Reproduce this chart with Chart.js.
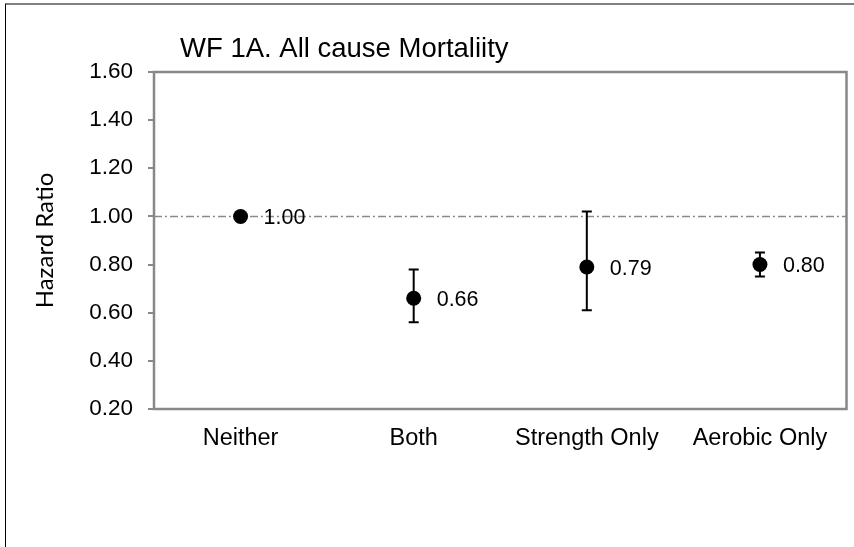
<!DOCTYPE html>
<html><head><meta charset="utf-8">
<script src="https://cdn.jsdelivr.net/npm/chart.js@4.4.1/dist/chart.umd.min.js"></script>
<style>
html,body{margin:0;padding:0;background:#fff;}
#wrap{position:relative;width:854px;height:547px;overflow:hidden;}
#frame{position:absolute;left:5px;top:3px;right:-5px;bottom:-5px;border-top:2px solid #808080;border-left:1px solid #000;pointer-events:none;}
canvas{position:absolute;left:0;top:0;}
</style></head><body>
<div id="wrap"><canvas id="c" width="854" height="547"></canvas><div id="frame"></div></div>
<script>
const chartTitle = 'WF 1A. All cause Mortaliity';
const yAxisTitle = 'Hazard Ratio';
const categories = ['Neither', 'Both', 'Strength Only', 'Aerobic Only'];
const hazardRatio = [1.00, 0.66, 0.79, 0.80];
const ciLower = [null, 0.56, 0.61, 0.75];
const ciUpper = [null, 0.78, 1.02, 0.85];
const referenceValue = 1.00;
const yTicks = [0.20, 0.40, 0.60, 0.80, 1.00, 1.20, 1.40, 1.60];

const FONT = "'Liberation Sans', Arial, sans-serif";

const overlay = {
  id: 'overlay',
  beforeDatasetsDraw(chart) {
    const {ctx, chartArea: a, scales: {x, y}} = chart;
    const yr = y.getPixelForValue(referenceValue);
    ctx.save();
    ctx.strokeStyle = '#8a8a8a';
    ctx.lineWidth = 1.5;
    ctx.setLineDash([8, 3, 2, 3]);
    ctx.beginPath();
    ctx.moveTo(a.left, yr);
    ctx.lineTo(a.right, yr);
    ctx.stroke();
    ctx.restore();

    ctx.save();
    ctx.strokeStyle = '#000';
    ctx.lineWidth = 2;
    hazardRatio.forEach((v, i) => {
      if (ciLower[i] == null) return;
      const px = x.getPixelForValue(i);
      const yl = y.getPixelForValue(ciLower[i]);
      const yu = y.getPixelForValue(ciUpper[i]);
      ctx.beginPath();
      ctx.moveTo(px, yl); ctx.lineTo(px, yu);
      ctx.moveTo(px - 5, yl); ctx.lineTo(px + 5, yl);
      ctx.moveTo(px - 5, yu); ctx.lineTo(px + 5, yu);
      ctx.stroke();
    });
    ctx.restore();
  },
  afterDraw(chart) {
    const {ctx, chartArea: a, scales: {x, y}} = chart;
    ctx.save();
    ctx.strokeStyle = '#888888';
    ctx.lineWidth = 2.5;
    ctx.strokeRect(a.left, a.top, a.right - a.left, a.bottom - a.top);
    ctx.restore();

    ctx.save();
    ctx.fillStyle = '#000';
    ctx.font = '21.5px ' + FONT;
    ctx.textAlign = 'left';
    ctx.textBaseline = 'middle';
    hazardRatio.forEach((v, i) => {
      const px = x.getPixelForValue(i);
      const py = y.getPixelForValue(v);
      ctx.fillText(v.toFixed(2), px + 23, py + 2);
    });
    ctx.font = '27.5px ' + FONT;
    ctx.textBaseline = 'alphabetic';
    ctx.fillText(chartTitle, 180, 57);
    ctx.restore();
  }
};

new Chart(document.getElementById('c'), {
  type: 'line',
  data: {
    labels: categories,
    datasets: [{
      data: hazardRatio,
      showLine: false,
      pointRadius: 7.5,
      pointHoverRadius: 7.5,
      pointBackgroundColor: '#000',
      pointBorderWidth: 0
    }]
  },
  options: {
    responsive: false,
    animation: false,
    layout: {padding: {left: 0, top: 72, right: 2, bottom: 88}},
    plugins: {legend: {display: false}, tooltip: {enabled: false}, title: {display: false}},
    scales: {
      x: {
        offset: true,
        grid: {display: false, drawTicks: false},
        border: {display: false},
        ticks: {color: '#000', font: {family: FONT, size: 23.5}, padding: 15, maxRotation: 0, autoSkip: false},
        afterFit(s) { s.height = 50; }
      },
      y: {
        min: 0.2, max: 1.6,
        afterBuildTicks(s) { s.ticks = yTicks.map(v => ({value: v})); },
        grid: {drawOnChartArea: false, drawTicks: true, tickLength: 6, color: '#888', lineWidth: 2},
        border: {display: false},
        ticks: {color: '#000', font: {family: FONT, size: 22.5}, padding: 15, callback: v => Number(v).toFixed(2)},
        title: {display: true, text: yAxisTitle, color: '#000', font: {family: 'Lato, sans-serif', size: 24}, padding: {top: 31, bottom: 0}},
        afterFit(s) { s.width = 154; }
      }
    }
  },
  plugins: [overlay]
});
</script>
</body></html>
